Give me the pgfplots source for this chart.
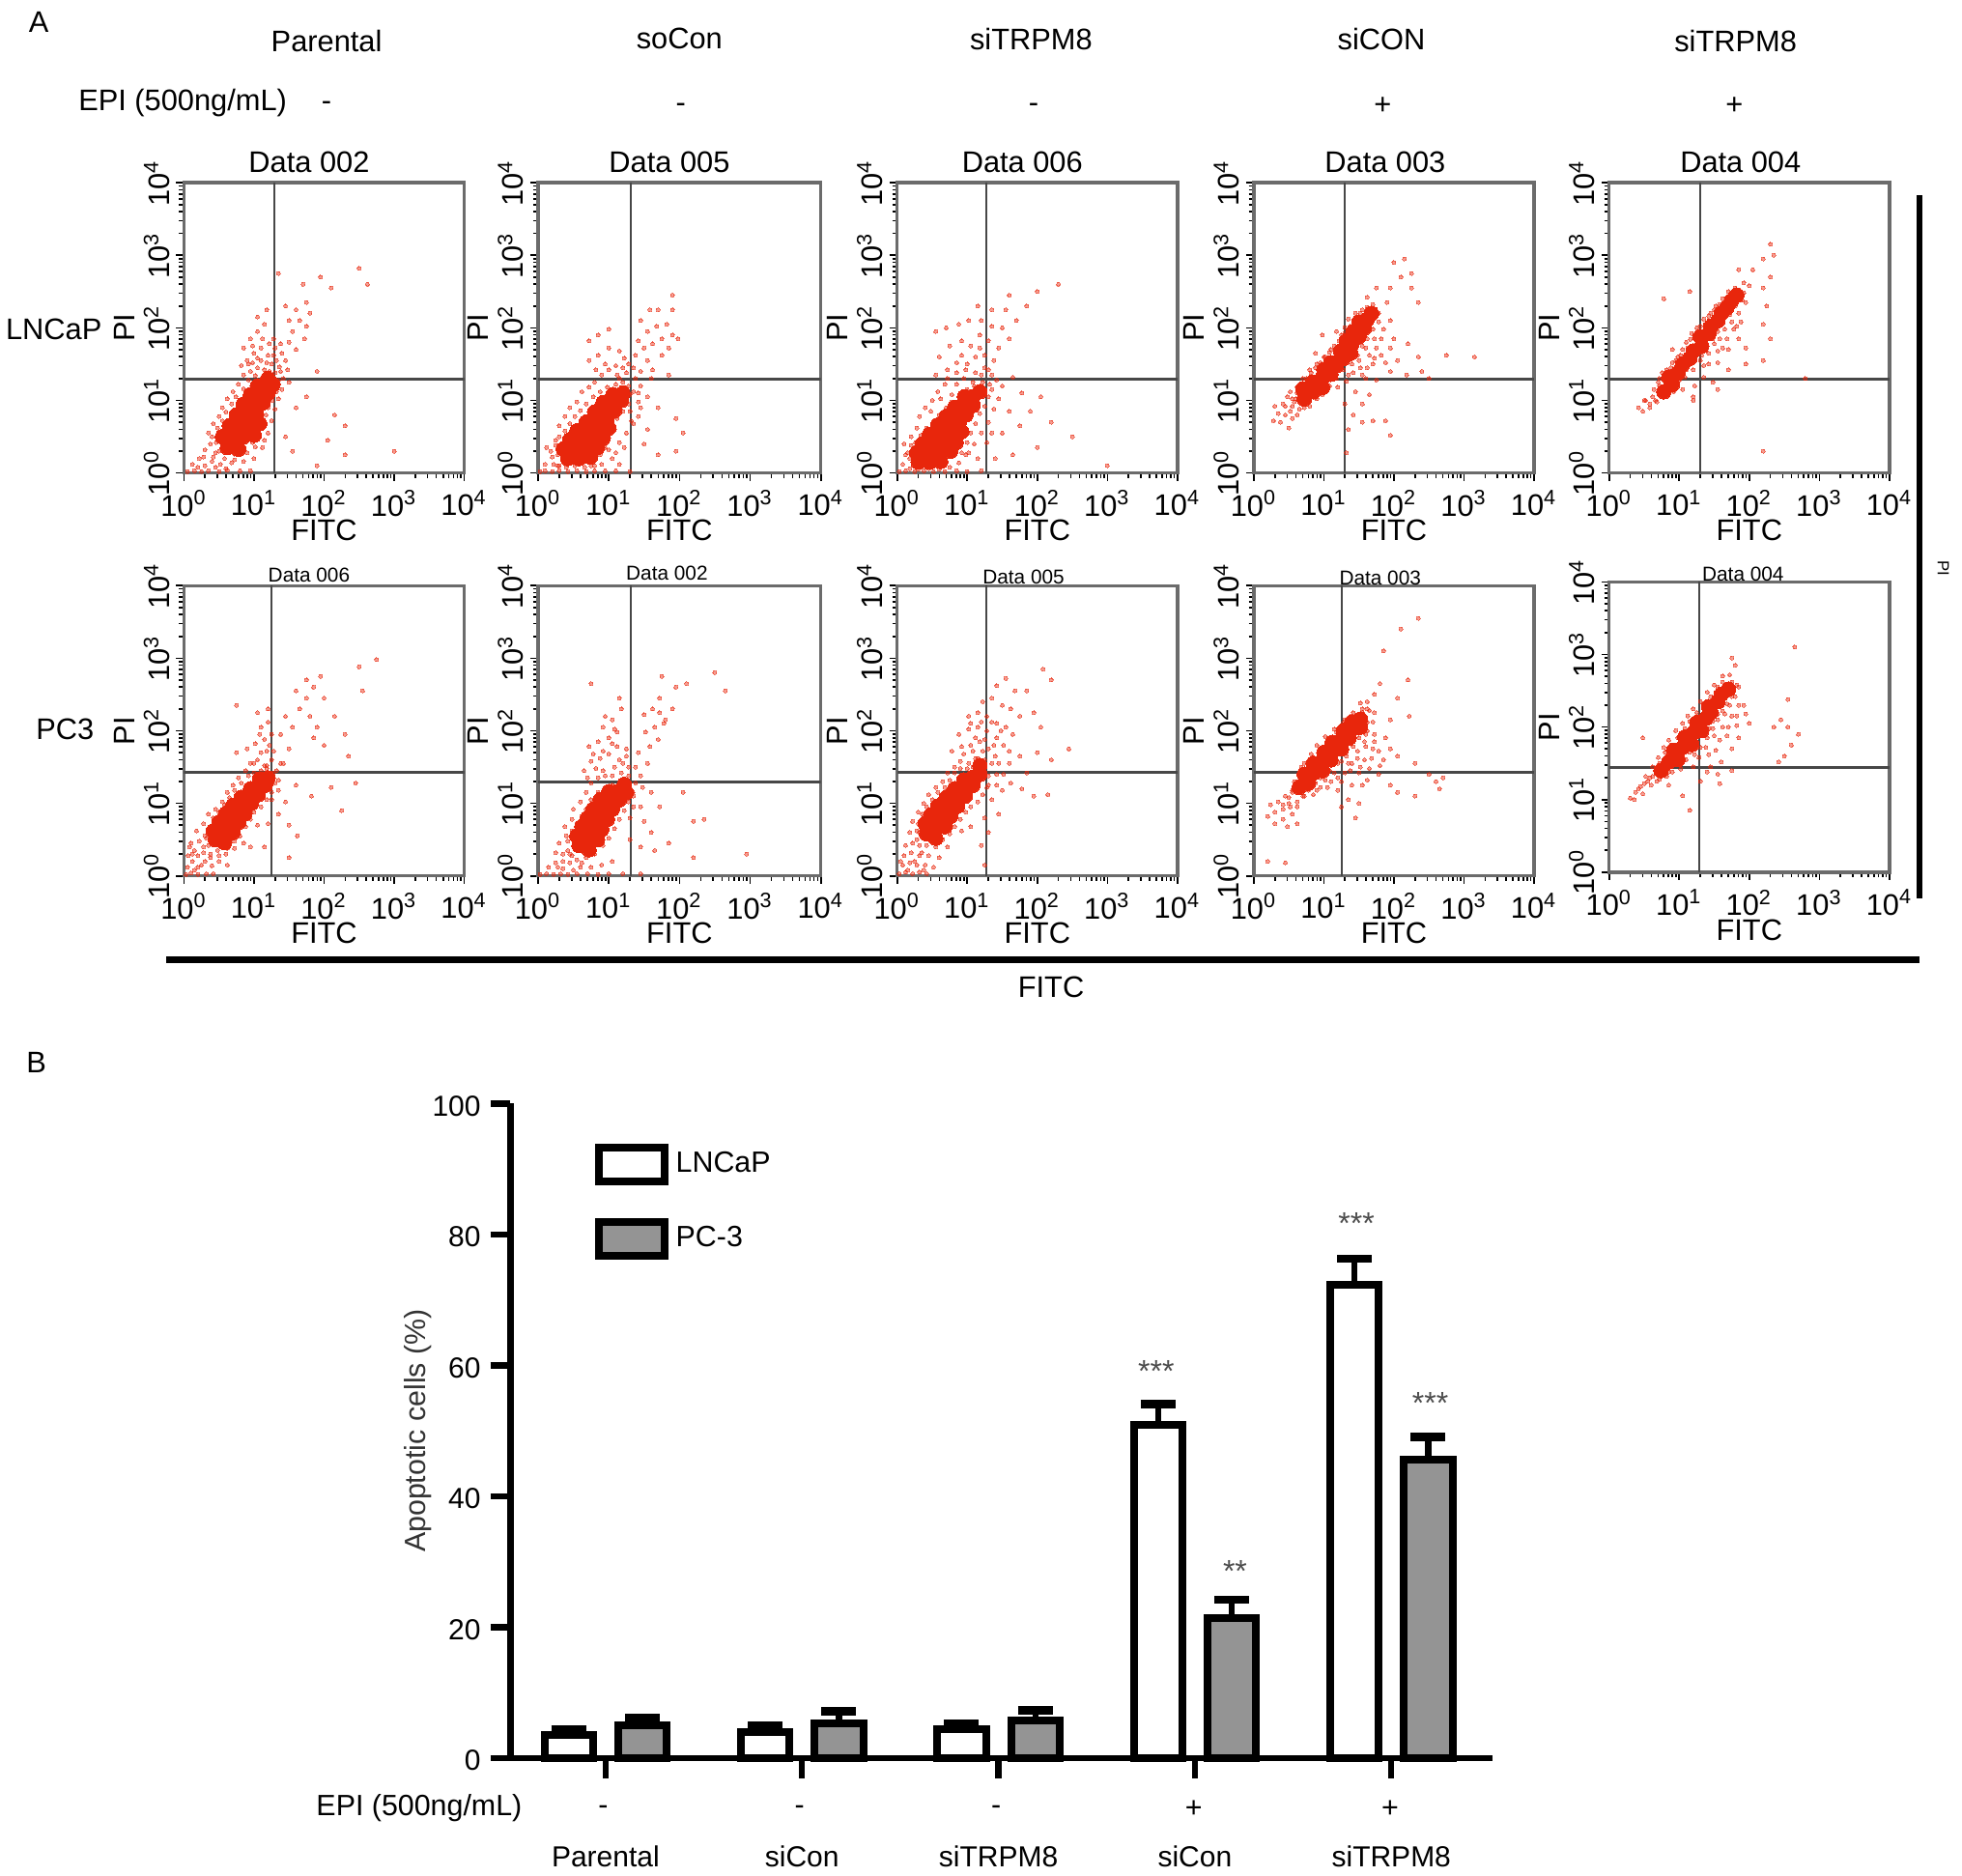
\documentclass[border=0pt]{standalone}
\usepackage{fontspec}
\setmainfont{Liberation Sans}
\usepackage{pgfplots}
\pgfplotsset{compat=1.18}

\definecolor{dotred}{HTML}{E8260C}
\definecolor{framegray}{gray}{0.42}
\definecolor{gategray}{gray}{0.28}
\definecolor{barline}{gray}{0}
\definecolor{barfill}{gray}{0.58}

% scatter values are log10 of the intensity, so the axes run 0..4 decades
\def\minorlog{0.301,0.477,0.602,0.699,0.778,0.845,0.903,0.954,1.301,1.477,1.602,1.699,1.778,1.845,1.903,1.954,2.301,2.477,2.602,2.699,2.778,2.845,2.903,2.954,3.301,3.477,3.602,3.699,3.778,3.845,3.903,3.954}

\pgfplotsset{
  flow/.style={
    scale only axis, height=75.13pt, anchor=south west,
    xmin=0, xmax=4, ymin=0, ymax=4,
    xtick={0,1,2,3,4}, ytick={0,1,2,3,4},
    minor xtick=\minorlog, minor ytick=\minorlog,
    xticklabels={10\textsuperscript{0},10\textsuperscript{1},10\textsuperscript{2},10\textsuperscript{3},10\textsuperscript{4}},
    yticklabels={10\textsuperscript{0},10\textsuperscript{1},10\textsuperscript{2},10\textsuperscript{3},10\textsuperscript{4}},
    tick align=outside, tick pos=left,
    major tick length=2pt, minor tick length=1.3pt,
    tick style={black, line width=0.4pt},
    axis line style={framegray, line width=0.85pt},
    ticklabel style={font=\fontsize{7.7}{8}\selectfont},
    xticklabel style={yshift=1pt},
    yticklabel style={rotate=90, anchor=south, yshift=-1.8pt},
    xlabel={FITC}, ylabel={PI},
    every axis x label/.style={at={(axis description cs:0.5,0)}, anchor=center, yshift=-14.9pt, font=\fontsize{7.7}{8}\selectfont},
    every axis y label/.style={at={(axis description cs:0,0.5)}, anchor=center, rotate=90, yshift=15.4pt, font=\fontsize{7.7}{8}\selectfont},
    clip=true,
  },
  sparse/.style={only marks, mark=*, mark size=0.5pt, mark options={draw=dotred, fill=dotred, line width=0pt, opacity=0.45}},
  core/.style={only marks, mark=*, mark size=1.9pt, mark options={draw=dotred, fill=dotred, line width=0pt}},
  gatev/.style={gategray, line width=0.5pt, no marks},
  gateh/.style={gategray, line width=0.75pt, no marks},
}

% x, y of the lower left corner, width, gates, then dense core, scattered cells, cells round the core
\newcommand{\panel}[8]{
\begin{axis}[flow, at={(#1*0.32385pt,-#2*0.32385pt)}, width=#3]
\addplot[sparse] coordinates {#7};
\addplot[sparse] coordinates {#8};
\addplot[core] coordinates {#6};
\addplot[gatev] coordinates {(#4,0)(#4,4)};
\addplot[gateh] coordinates {(0,#5)(4,#5)};
\end{axis}}

\newcommand{\lab}[3]{\node[font=\fontsize{7.7}{8}\selectfont] at (#1,#2) {#3};}
\newcommand{\smalllab}[3]{\node[font=\fontsize{5.2}{6}\selectfont] at (#1,#2) {#3};}

\begin{document}
\begin{tikzpicture}[x=0.32385pt, y=-0.32385pt]
\useasboundingbox (0,0) rectangle (1568,1499);

% row 1, LNCaP
\panel{147}{378}{72.54pt}{1.29}{1.29}
{(0.62,0.35)(0.78,0.33)(0.55,0.5)(0.7,0.5)(0.85,0.5)(1.0,0.52)(0.65,0.65)(0.8,0.65)(0.95,0.65)(1.08,0.68)(0.75,0.8)(0.9,0.8)(1.03,0.82)(0.85,0.95)(1.0,0.95)(1.13,0.97)(0.95,1.08)(1.08,1.08)(1.2,1.1)(1.05,1.2)(1.17,1.2)(1.27,1.22)(1.2,1.3)}
{(0.05,0.02)(0.15,0.03)(0.25,0.02)(0.35,0.03)(0.5,0.02)(0.62,0.04)(0.8,0.03)(0.95,0.03)(0.12,0.12)(0.22,0.2)(0.3,0.1)(0.4,0.16)(0.52,0.12)(0.68,0.14)(0.85,0.16)(1.0,0.2)(0.3,0.32)(0.38,0.4)(0.45,0.28)(0.35,0.55)(0.42,0.68)(0.5,0.78)(0.55,0.9)(0.62,1.02)(0.7,1.12)(0.78,1.22)(1.12,0.35)(1.2,0.55)(1.25,0.72)(1.3,0.88)(1.35,1.02)(1.4,1.15)(1.42,1.3)(1.38,1.4)(0.85,1.35)(0.95,1.4)(1.05,1.45)(1.15,1.42)(1.25,1.5)(1.32,1.55)(0.9,1.55)(1.0,1.65)(1.1,1.72)(1.2,1.62)(1.3,1.72)(1.28,1.85)(0.85,1.72)(0.95,1.85)(1.05,1.95)(1.15,2.05)(1.05,2.15)(1.18,2.25)(1.4,1.65)(1.5,1.8)(1.55,1.95)(1.6,1.7)(1.72,1.85)(1.65,2.1)(1.5,2.1)(1.75,2.02)(1.8,2.2)(1.6,2.25)(1.75,2.35)(1.45,2.3)(1.35,2.75)(1.95,2.7)(2.5,2.82)(2.62,2.6)(2.1,2.55)(1.7,2.6)(1.5,1.25)(1.6,0.9)(1.75,1.05)(1.9,1.4)(2.15,0.8)(2.3,0.65)(2.05,0.45)(2.3,0.25)(3.0,0.3)(1.9,0.1)(1.45,0.5)(1.55,0.3)}
{(0.42,0.22)(0.5,0.3)(0.58,0.2)(0.72,0.18)(0.9,0.28)(1.02,0.36)(0.46,0.42)(0.4,0.5)(0.48,0.62)(0.55,0.72)(0.6,0.84)(0.68,0.95)(0.74,1.05)(0.85,1.16)(0.92,1.28)(1.02,1.34)(1.12,1.32)(1.17,0.8)(1.2,0.9)(1.26,1.0)(1.32,1.12)(1.35,1.28)(1.3,1.38)(1.22,1.4)(1.1,1.55)(1.18,1.52)(1.28,1.62)(0.98,1.52)(1.05,1.58)(0.82,1.48)(1.36,1.46)(1.12,0.62)(1.15,0.45)(1.08,0.5)(0.98,0.42)(0.6,0.06)(0.45,0.08)(0.72,0.26)(0.28,0.22)(0.2,0.08)(0.92,1.5)(1.22,1.78)(1.12,1.85)(0.98,1.75)(1.38,1.78)(1.45,1.55)(1.48,1.42)}

\panel{430}{378}{73.19pt}{1.31}{1.29}
{(0.42,0.2)(0.58,0.2)(0.74,0.22)(0.36,0.33)(0.52,0.33)(0.68,0.33)(0.84,0.35)(0.45,0.46)(0.6,0.46)(0.76,0.46)(0.92,0.48)(0.55,0.58)(0.7,0.58)(0.85,0.6)(1.0,0.62)(0.68,0.7)(0.82,0.72)(0.97,0.74)(0.8,0.84)(0.94,0.85)(1.08,0.86)(0.92,0.97)(1.05,0.98)(1.18,1.0)(1.06,1.08)(1.2,1.1)}
{(0.03,0.02)(0.1,0.03)(0.2,0.02)(0.3,0.03)(0.42,0.02)(0.55,0.03)(0.68,0.02)(0.8,0.03)(0.95,0.03)(1.1,0.03)(1.3,0.02)(0.1,0.12)(0.2,0.22)(0.12,0.35)(0.25,0.45)(0.28,0.1)(0.9,0.12)(1.05,0.2)(1.15,0.12)(1.0,0.32)(1.15,0.42)(1.25,0.55)(1.35,0.68)(1.42,0.78)(1.3,0.85)(1.42,0.98)(1.35,1.12)(1.45,1.2)(0.3,0.65)(0.38,0.78)(0.45,0.9)(0.55,0.98)(0.62,1.12)(0.72,1.18)(0.8,1.25)(0.9,1.35)(1.0,1.42)(1.12,1.35)(1.2,1.45)(1.28,1.5)(0.72,1.55)(0.85,1.62)(1.0,1.72)(1.15,1.68)(0.72,1.82)(0.85,1.9)(1.0,1.98)(1.45,1.4)(1.55,1.55)(1.62,1.42)(1.5,1.72)(1.62,1.78)(1.75,1.62)(1.85,1.72)(1.75,1.85)(1.9,1.9)(1.68,2.02)(1.55,1.95)(1.42,1.82)(1.82,2.05)(1.98,1.85)(1.45,2.1)(1.58,2.25)(1.7,2.25)(1.9,2.25)(1.9,2.45)(1.6,1.3)(1.85,1.35)(1.55,0.6)(1.7,0.9)(1.55,1.05)(1.95,0.75)(2.05,0.55)(1.95,0.3)(1.7,0.25)(1.5,0.4)}
{(0.3,0.1)(0.4,0.08)(0.52,0.1)(0.66,0.08)(0.8,0.1)(0.22,0.12)(0.18,0.3)(0.28,0.25)(0.25,0.38)(0.3,0.5)(0.38,0.58)(0.45,0.68)(0.52,0.78)(0.6,0.86)(0.68,0.95)(0.78,1.05)(0.88,1.12)(0.98,1.18)(1.1,1.22)(1.2,1.25)(1.28,1.2)(1.3,1.08)(1.28,0.95)(1.2,0.85)(1.12,0.75)(1.08,0.6)(1.0,0.48)(0.95,0.35)(0.88,0.25)(0.75,0.1)(1.38,1.3)(1.42,1.1)(1.25,1.38)(1.15,1.3)(1.35,1.45)(1.1,1.48)(0.95,1.5)(0.82,1.42)(1.22,1.58)(1.38,1.62)(1.32,0.72)(1.45,0.9)(1.1,0.28)(1.22,0.35)(0.58,0.12)}

\panel{717}{378}{72.54pt}{1.27}{1.29}
{(0.3,0.15)(0.46,0.15)(0.62,0.16)(0.28,0.28)(0.44,0.28)(0.6,0.28)(0.76,0.3)(0.36,0.4)(0.52,0.4)(0.68,0.42)(0.84,0.42)(0.46,0.53)(0.62,0.53)(0.78,0.55)(0.92,0.57)(0.58,0.66)(0.72,0.66)(0.88,0.68)(0.7,0.78)(0.84,0.8)(0.98,0.8)(0.82,0.9)(0.96,0.93)(1.08,0.93)(0.96,1.05)(1.08,1.05)(1.18,1.12)}
{(0.03,0.02)(0.12,0.03)(0.25,0.02)(0.38,0.03)(0.52,0.02)(0.68,0.02)(0.85,0.03)(1.0,0.02)(1.2,0.03)(0.08,0.12)(0.15,0.28)(0.1,0.4)(0.2,0.5)(0.28,0.62)(0.32,0.78)(0.4,0.9)(0.5,1.0)(0.58,1.12)(0.68,1.22)(0.78,1.08)(0.85,1.22)(0.95,1.3)(1.08,1.25)(1.2,1.35)(1.3,1.42)(0.72,1.42)(0.85,1.52)(1.0,1.5)(1.12,1.6)(1.25,1.62)(1.38,1.55)(0.6,1.6)(0.75,1.75)(0.92,1.82)(1.05,1.75)(1.18,1.9)(1.3,1.82)(1.45,1.72)(0.55,1.95)(0.7,2.0)(0.88,2.05)(1.02,2.1)(1.2,2.1)(1.35,2.02)(1.5,2.0)(1.6,1.85)(1.7,2.1)(1.55,2.25)(1.35,2.25)(1.15,2.3)(1.85,2.3)(2.0,2.5)(2.3,2.6)(1.6,2.45)(0.98,0.25)(1.1,0.4)(1.2,0.55)(1.3,0.7)(1.38,0.88)(1.45,1.02)(1.35,1.15)(1.5,1.2)(1.65,1.32)(1.78,1.1)(1.6,0.85)(1.75,0.65)(1.5,0.55)(1.9,0.85)(2.05,1.05)(2.2,0.7)(2.0,0.35)(2.5,0.5)(3.0,0.1)(1.65,0.25)(1.4,0.2)}
{(0.18,0.06)(0.3,0.05)(0.45,0.06)(0.6,0.05)(0.75,0.08)(0.88,0.14)(0.92,0.28)(1.0,0.42)(1.05,0.55)(1.12,0.68)(1.18,0.82)(1.25,0.92)(1.3,1.05)(1.32,1.22)(1.22,1.25)(1.1,1.2)(1.0,1.15)(0.9,1.08)(0.78,0.98)(0.7,0.9)(0.6,0.8)(0.52,0.72)(0.42,0.62)(0.34,0.52)(0.26,0.42)(0.18,0.2)(0.12,0.25)(0.2,0.38)(0.72,1.3)(0.85,1.38)(0.98,1.42)(1.12,1.38)(1.25,1.45)(1.35,1.35)(1.42,1.28)(1.15,1.12)(1.02,0.28)(1.15,0.2)(1.28,0.42)(1.35,0.55)(0.62,1.02)(0.48,0.85)(0.55,1.35)(0.92,1.62)(1.18,1.72)}

\panel{1002}{378}{72.54pt}{1.30}{1.29}
{(0.72,1.02)(0.85,1.12)(0.7,1.16)(0.84,1.25)(0.97,1.3)(0.98,1.18)(1.1,1.36)(1.0,1.42)(1.18,1.48)(1.1,1.52)(1.28,1.58)(1.38,1.65)(1.24,1.68)(1.4,1.78)(1.32,1.82)(1.5,1.88)(1.42,1.95)(1.58,2.0)(1.5,2.08)(1.62,2.12)(1.68,2.2)}
{(0.28,0.72)(0.35,0.82)(0.3,0.92)(0.42,0.95)(0.38,0.7)(0.45,0.8)(0.5,0.62)(0.55,0.75)(0.48,1.05)(0.55,0.92)(0.62,0.8)(0.6,1.02)(0.52,1.12)(0.62,1.18)(0.72,0.9)(0.8,0.92)(0.9,1.02)(0.7,1.3)(0.8,1.42)(0.9,1.5)(0.88,1.65)(1.0,1.6)(0.98,1.9)(1.1,1.7)(1.18,1.95)(1.25,1.9)(1.3,2.0)(1.35,2.12)(1.45,2.2)(1.55,2.25)(1.7,2.32)(1.78,2.2)(1.62,2.42)(2.0,2.9)(2.15,2.95)(2.25,2.75)(2.1,2.7)(1.95,2.55)(2.25,2.55)(2.35,2.35)(1.75,2.55)(1.9,2.35)(1.35,1.35)(1.5,1.55)(1.6,1.72)(1.72,1.85)(1.85,1.98)(1.95,2.1)(1.55,1.35)(1.7,1.5)(1.82,1.62)(1.95,1.72)(2.05,1.55)(2.2,1.78)(2.35,1.6)(2.0,1.85)(1.75,1.28)(1.95,1.4)(2.18,1.35)(2.4,1.4)(2.75,1.62)(3.15,1.6)(1.45,1.12)(1.3,0.95)(1.42,0.8)(1.35,0.6)(1.55,0.95)(1.65,1.08)(1.7,0.72)(1.88,0.72)(1.95,0.52)(1.32,0.28)(1.55,0.7)(2.5,1.3)}
{(0.45,0.92)(0.52,0.85)(0.58,0.98)(0.65,0.88)(0.7,0.95)(0.62,1.1)(0.68,1.22)(0.55,1.02)(0.75,1.3)(0.82,1.38)(0.88,1.45)(0.95,1.52)(1.02,1.6)(1.08,1.66)(1.15,1.75)(1.22,1.82)(1.3,1.92)(1.38,2.02)(1.45,2.12)(1.52,2.2)(1.62,2.28)(0.98,1.08)(1.08,1.2)(1.18,1.3)(1.28,1.42)(1.4,1.5)(1.48,1.62)(1.55,1.75)(1.62,1.85)(1.7,1.98)(1.78,2.08)(1.72,2.22)(1.82,1.85)(1.65,1.62)(1.52,1.45)(1.42,1.38)(1.62,1.45)(1.75,1.72)(1.88,1.52)(1.72,1.58)(1.6,1.3)(0.78,1.02)(0.88,1.04)(1.2,1.18)(1.32,1.26)}

\panel{1286}{378}{72.54pt}{1.30}{1.29}
{(0.78,1.12)(0.9,1.22)(0.85,1.32)(0.98,1.38)(1.05,1.5)(1.15,1.58)(1.2,1.68)(1.32,1.75)(1.3,1.88)(1.42,1.92)(1.45,2.02)(1.55,2.1)(1.6,2.2)(1.68,2.28)(1.75,2.38)(1.82,2.45)}
{(0.42,0.9)(0.5,1.0)(0.58,0.95)(0.48,0.85)(0.62,1.05)(0.68,0.98)(0.72,1.2)(0.72,1.3)(0.82,1.42)(0.9,1.52)(0.98,1.6)(1.05,1.7)(1.1,1.8)(1.18,1.92)(1.25,2.0)(1.35,2.12)(1.45,2.2)(1.52,2.3)(1.62,2.4)(1.7,2.5)(1.8,2.55)(1.92,2.62)(2.0,2.58)(0.95,1.18)(1.08,1.32)(1.2,1.42)(1.3,1.55)(1.42,1.65)(1.5,1.78)(1.58,1.85)(1.65,1.98)(1.75,2.08)(1.85,2.2)(1.95,2.35)(1.05,1.15)(1.22,1.2)(1.35,1.32)(1.55,1.52)(1.7,1.7)(1.85,1.85)(1.7,1.42)(1.95,1.72)(2.2,2.05)(2.25,2.3)(2.2,2.55)(2.3,2.7)(2.2,2.95)(2.3,3.15)(2.35,3.0)(2.05,2.8)(1.85,2.8)(0.78,2.4)(0.9,1.7)(1.2,1.05)(1.48,1.25)(1.95,1.5)(2.3,1.85)(2.2,1.55)(1.15,2.5)(1.2,1.0)(1.55,1.15)(2.8,1.3)(2.2,0.3)}
{(0.52,1.0)(0.58,0.9)(0.66,1.0)(0.72,1.08)(0.64,1.15)(0.7,1.25)(0.82,1.25)(0.76,1.38)(0.88,1.45)(0.95,1.55)(1.02,1.62)(1.12,1.72)(1.16,1.84)(1.22,1.9)(1.3,2.02)(1.38,2.05)(1.42,2.16)(1.5,2.25)(1.58,2.32)(1.68,2.42)(1.75,2.48)(1.85,2.52)(0.92,1.12)(1.0,1.28)(1.1,1.42)(1.2,1.52)(1.32,1.62)(1.38,1.72)(1.48,1.85)(1.55,1.95)(1.62,2.08)(1.72,2.18)(1.8,2.3)(1.9,2.38)(1.92,2.48)(1.42,1.5)(1.55,1.68)(1.68,1.85)(1.78,1.98)(1.88,2.08)(1.35,1.48)(1.62,1.72)(1.82,2.02)}

% row 2, PC3
\panel{147}{700}{72.54pt}{1.25}{1.43}
{(0.45,0.5)(0.58,0.46)(0.42,0.62)(0.56,0.6)(0.7,0.6)(0.5,0.74)(0.64,0.72)(0.78,0.74)(0.6,0.86)(0.73,0.85)(0.87,0.86)(0.7,0.97)(0.84,0.97)(0.96,1.0)(0.82,1.08)(0.95,1.1)(1.06,1.12)(0.95,1.2)(1.05,1.22)(1.16,1.25)(1.08,1.33)(1.2,1.35)}
{(0.03,0.02)(0.1,0.04)(0.2,0.02)(0.32,0.03)(0.42,0.03)(0.05,0.12)(0.12,0.2)(0.2,0.12)(0.3,0.2)(0.4,0.14)(0.06,0.28)(0.15,0.35)(0.28,0.32)(0.2,0.28)(0.38,0.3)(0.5,0.28)(0.1,0.45)(0.22,0.48)(0.3,0.55)(0.18,0.62)(0.28,0.72)(0.35,0.85)(0.45,0.92)(0.55,1.02)(0.62,1.15)(0.7,1.25)(0.78,1.35)(0.88,1.45)(0.95,1.55)(1.05,1.6)(1.15,1.52)(1.25,1.6)(0.9,1.75)(1.02,1.82)(1.15,1.88)(1.25,1.95)(0.75,1.7)(1.1,2.05)(1.2,2.12)(1.05,2.25)(1.2,2.3)(0.75,2.35)(1.32,1.45)(1.42,1.55)(1.5,1.75)(1.38,1.95)(1.55,2.05)(1.45,2.2)(1.65,2.3)(1.75,2.45)(1.6,2.55)(1.85,2.6)(1.95,2.75)(1.75,2.7)(2.0,2.45)(2.15,2.2)(2.3,1.95)(2.35,1.65)(1.8,2.2)(1.9,2.05)(2.0,1.8)(1.85,1.9)(2.5,2.88)(2.75,2.98)(2.55,2.55)(1.25,1.05)(1.35,1.18)(1.45,1.02)(1.6,1.25)(1.82,1.1)(2.1,1.22)(2.25,0.9)(2.45,1.28)(1.2,0.72)(1.35,0.85)(1.5,0.7)(1.62,0.55)(1.05,0.7)(1.15,0.4)(1.5,0.25)(0.95,0.4)(0.85,0.45)(0.72,0.38)}
{(0.28,0.4)(0.35,0.42)(0.32,0.52)(0.38,0.68)(0.42,0.8)(0.5,0.88)(0.58,0.98)(0.65,1.08)(0.72,1.18)(0.82,1.28)(0.92,1.38)(1.0,1.42)(1.1,1.45)(1.18,1.48)(1.28,1.42)(1.3,1.28)(1.25,1.15)(1.18,1.05)(1.1,0.95)(1.0,0.88)(0.95,0.78)(0.88,0.68)(0.8,0.55)(0.72,0.48)(0.62,0.38)(0.48,0.35)(0.38,0.25)(0.25,0.15)(0.15,0.08)(0.5,0.2)(0.6,0.3)(0.12,0.3)(0.08,0.4)(1.0,1.55)(1.1,1.7)(1.18,1.72)(1.22,1.8)(1.28,1.72)(1.08,1.95)(1.18,1.52)(1.35,1.32)(1.38,1.55)(0.62,0.15)}

\panel{430}{700}{73.19pt}{1.31}{1.29}
{(0.58,0.42)(0.72,0.36)(0.55,0.55)(0.7,0.52)(0.84,0.5)(0.62,0.68)(0.76,0.66)(0.9,0.64)(0.7,0.8)(0.84,0.8)(0.98,0.78)(0.78,0.92)(0.92,0.92)(1.05,0.92)(0.88,1.05)(1.02,1.04)(1.15,1.05)(1.0,1.16)(1.12,1.16)(1.25,1.15)(1.22,1.26)}
{(0.03,0.02)(0.12,0.03)(0.22,0.02)(0.32,0.03)(0.42,0.02)(0.55,0.03)(0.7,0.03)(0.85,0.02)(1.0,0.03)(1.2,0.03)(1.45,0.03)(0.15,0.12)(0.25,0.18)(0.35,0.1)(0.45,0.18)(0.6,0.12)(0.75,0.12)(0.9,0.15)(1.05,0.2)(0.25,0.32)(0.35,0.3)(0.45,0.3)(0.3,0.45)(0.4,0.55)(0.38,0.68)(0.48,0.78)(0.5,0.92)(0.6,1.02)(0.68,1.15)(0.75,1.28)(0.85,1.35)(0.92,1.45)(1.05,1.38)(1.18,1.42)(1.28,1.5)(0.65,1.45)(0.75,1.58)(0.88,1.62)(1.0,1.68)(1.15,1.6)(1.25,1.75)(0.72,1.78)(0.85,1.85)(1.0,1.9)(1.12,1.98)(1.05,2.15)(1.18,2.3)(0.95,2.2)(1.15,2.45)(0.75,2.65)(1.45,1.38)(1.55,1.55)(1.42,1.7)(1.58,1.78)(1.7,1.88)(1.52,1.98)(1.65,2.05)(1.78,2.1)(1.5,2.22)(1.62,2.3)(1.72,2.25)(1.8,2.15)(1.9,2.3)(1.72,2.45)(1.95,2.6)(1.75,2.75)(2.1,2.65)(2.5,2.8)(2.65,2.55)(1.35,1.1)(1.45,0.95)(1.6,1.15)(1.3,0.8)(1.5,0.75)(1.6,0.6)(1.3,0.5)(1.45,0.4)(1.72,0.95)(2.05,1.15)(2.35,0.78)(2.2,0.75)(2.95,0.3)(2.2,0.25)(1.65,0.35)(1.85,0.45)}
{(0.42,0.35)(0.48,0.28)(0.55,0.22)(0.68,0.25)(0.8,0.3)(0.92,0.42)(1.0,0.52)(1.08,0.65)(1.15,0.78)(1.22,0.9)(1.28,1.02)(1.34,1.15)(1.38,1.28)(1.28,1.38)(1.15,1.28)(1.05,1.25)(0.95,1.22)(0.85,1.15)(0.75,1.05)(0.68,0.92)(0.62,0.82)(0.55,0.72)(0.48,0.62)(0.42,0.48)(0.35,0.2)(0.28,0.12)(0.5,0.08)(0.62,0.18)(0.95,1.38)(1.08,1.5)(1.2,1.55)(0.82,1.48)(0.7,1.35)(0.78,1.68)(0.92,1.72)(1.12,1.78)(1.25,1.65)(1.05,1.82)(1.38,1.5)(1.35,0.95)(1.22,1.15)(1.48,1.22)(0.92,2.05)(1.08,2.02)}

\panel{717}{700}{72.54pt}{1.27}{1.43}
{(0.42,0.58)(0.55,0.52)(0.4,0.72)(0.54,0.68)(0.68,0.68)(0.48,0.84)(0.62,0.82)(0.76,0.82)(0.58,0.96)(0.72,0.96)(0.86,0.96)(0.7,1.08)(0.84,1.08)(0.97,1.1)(0.82,1.2)(0.96,1.2)(1.08,1.25)(0.95,1.32)(1.08,1.36)(1.18,1.4)(1.18,1.52)}
{(0.03,0.03)(0.12,0.05)(0.22,0.03)(0.32,0.05)(0.42,0.03)(0.08,0.15)(0.18,0.18)(0.28,0.15)(0.4,0.15)(0.52,0.12)(0.1,0.28)(0.2,0.32)(0.32,0.28)(0.45,0.28)(0.6,0.25)(0.12,0.42)(0.22,0.45)(0.32,0.42)(0.72,0.4)(0.18,0.6)(0.28,0.62)(0.22,0.75)(0.3,0.88)(0.38,1.0)(0.45,1.12)(0.55,1.22)(0.65,1.3)(0.72,1.42)(0.82,1.5)(0.9,1.58)(1.02,1.55)(1.12,1.62)(1.25,1.6)(0.78,1.72)(0.92,1.78)(1.05,1.8)(1.18,1.85)(1.3,1.75)(1.4,1.65)(0.88,1.95)(1.02,2.02)(1.15,2.05)(1.28,2.0)(1.42,1.9)(1.52,1.8)(1.02,2.2)(1.15,2.25)(1.28,2.2)(1.42,2.1)(1.55,2.05)(1.65,1.95)(1.22,2.4)(1.35,2.45)(1.5,2.35)(1.62,2.3)(1.75,2.2)(1.42,2.62)(1.55,2.72)(1.68,2.55)(1.85,2.55)(1.95,2.25)(2.05,2.05)(2.08,2.85)(2.2,2.7)(1.3,1.25)(1.42,1.4)(1.6,1.55)(1.75,1.65)(1.85,1.42)(2.0,1.7)(2.2,1.6)(2.45,1.75)(1.35,1.05)(1.5,1.18)(1.62,1.28)(1.78,1.2)(1.95,1.1)(2.15,1.12)(1.25,0.8)(1.45,0.85)(1.3,0.6)(1.2,0.42)(1.05,0.68)(0.92,0.62)(1.25,0.15)}
{(0.28,0.5)(0.32,0.6)(0.3,0.72)(0.36,0.85)(0.42,0.95)(0.5,1.05)(0.58,1.15)(0.68,1.22)(0.75,1.32)(0.82,1.42)(0.9,1.48)(1.0,1.48)(1.08,1.5)(1.15,1.62)(1.25,1.5)(1.3,1.38)(1.28,1.22)(1.22,1.12)(1.15,1.02)(1.05,0.95)(0.98,0.88)(0.9,0.78)(0.82,0.68)(0.75,0.58)(0.65,0.5)(0.55,0.4)(0.42,0.42)(0.35,0.32)(0.25,0.2)(0.15,0.08)(0.05,0.2)(0.38,0.08)(0.95,1.68)(1.08,1.72)(1.22,1.72)(1.35,1.55)(1.12,1.9)(1.25,1.88)(1.38,1.8)(1.05,2.1)(1.2,2.12)(1.35,2.12)(1.45,1.55)(1.52,1.4)(1.42,1.25)(1.48,2.0)(1.6,1.72)}

\panel{1002}{700}{72.54pt}{1.25}{1.43}
{(0.65,1.22)(0.78,1.28)(0.72,1.4)(0.85,1.42)(0.98,1.45)(0.85,1.55)(0.98,1.58)(1.1,1.6)(1.0,1.7)(1.12,1.72)(1.25,1.75)(1.12,1.84)(1.25,1.88)(1.36,1.9)(1.28,2.0)(1.4,2.02)(1.52,2.05)(1.4,2.12)(1.52,2.16)}
{(0.2,0.82)(0.3,0.88)(0.24,0.98)(0.35,1.02)(0.3,0.72)(0.42,0.78)(0.42,0.92)(0.5,1.0)(0.55,0.85)(0.45,1.1)(0.55,1.15)(0.62,1.02)(0.7,1.1)(0.48,0.68)(0.62,0.72)(0.58,1.3)(0.65,1.42)(0.72,1.55)(0.82,1.68)(0.9,1.8)(1.02,1.92)(1.15,2.02)(1.3,2.15)(1.42,2.25)(1.55,2.3)(1.65,2.28)(1.7,2.12)(1.62,2.0)(1.72,1.95)(1.58,1.85)(1.7,1.75)(1.48,1.72)(1.58,1.6)(1.4,1.55)(1.5,1.42)(1.65,1.48)(1.3,1.42)(1.2,1.35)(1.4,1.25)(1.55,1.25)(1.2,1.18)(1.05,1.22)(0.95,1.22)(0.85,1.12)(1.35,1.05)(1.25,0.95)(1.5,1.0)(1.78,1.4)(1.85,1.6)(1.95,1.75)(2.05,1.65)(1.88,1.9)(1.95,2.15)(2.05,2.45)(1.72,2.5)(1.62,2.4)(2.2,2.7)(2.22,2.2)(1.95,1.25)(2.05,1.15)(2.3,1.55)(2.5,1.4)(2.6,1.3)(2.65,1.2)(2.7,1.35)(1.8,2.65)(2.3,1.1)(1.85,3.1)(2.1,3.4)(2.35,3.55)(0.2,0.2)(0.45,0.18)(1.45,0.8)}
{(0.42,0.98)(0.5,1.08)(0.55,1.18)(0.52,0.95)(0.62,0.95)(0.72,1.1)(0.78,1.18)(0.88,1.28)(0.95,1.35)(1.08,1.45)(1.2,1.55)(1.32,1.65)(1.42,1.78)(1.5,1.9)(1.6,1.95)(1.62,2.12)(1.55,2.25)(1.38,2.2)(1.28,2.12)(1.18,1.98)(1.05,1.85)(0.95,1.72)(0.88,1.62)(0.78,1.52)(0.62,1.3)(0.68,1.5)(1.35,1.55)(1.48,1.62)(1.6,1.78)(1.72,1.85)(1.25,1.58)(1.38,1.45)(1.52,1.5)(1.68,1.62)(1.78,1.72)(1.8,1.52)(1.15,1.42)(1.1,1.3)(1.25,1.3)(1.02,1.32)(0.9,1.18)(1.62,1.32)(1.72,2.25)(1.52,2.38)(1.62,2.3)}

\panel{1286}{697}{72.54pt}{1.29}{1.44}
{(0.74,1.4)(0.85,1.52)(0.98,1.55)(0.92,1.68)(1.05,1.72)(1.18,1.76)(1.08,1.86)(1.2,1.92)(1.32,1.95)(1.25,2.06)(1.38,2.12)(1.45,2.2)(1.42,2.28)(1.55,2.35)(1.6,2.45)(1.7,2.52)}
{(0.3,1.02)(0.38,1.1)(0.45,1.18)(0.36,1.0)(0.48,1.08)(0.55,1.25)(0.62,1.32)(0.68,1.25)(0.52,1.32)(0.72,1.5)(0.8,1.65)(0.88,1.75)(0.98,1.85)(1.08,1.98)(1.15,2.08)(1.25,2.2)(1.35,2.3)(1.45,2.42)(1.55,2.55)(1.62,2.62)(1.75,2.62)(1.8,2.42)(1.72,2.3)(1.65,2.18)(1.55,2.1)(1.48,1.98)(1.4,1.85)(1.3,1.72)(1.22,1.62)(1.1,1.55)(1.02,1.42)(0.9,1.38)(0.82,1.32)(1.42,1.62)(1.58,1.82)(1.7,2.0)(1.82,2.15)(1.92,2.3)(1.85,1.85)(2.0,2.05)(1.6,1.52)(1.75,1.7)(1.4,1.38)(1.3,1.25)(1.55,1.35)(0.85,1.2)(1.05,1.05)(1.15,0.85)(1.58,1.22)(1.75,1.4)(2.35,2.0)(2.45,2.1)(2.55,2.0)(2.6,1.75)(2.5,1.6)(2.42,1.52)(2.7,1.9)(2.55,2.38)(2.65,3.1)(1.75,2.95)(1.8,2.85)(0.48,1.85)(1.85,2.55)}
{(0.42,1.15)(0.5,1.22)(0.58,1.3)(0.62,1.45)(0.7,1.58)(0.78,1.72)(0.85,1.82)(0.95,1.95)(1.05,2.05)(1.12,2.15)(1.2,2.25)(1.3,2.35)(1.4,2.48)(1.5,2.58)(1.62,2.7)(1.72,2.72)(1.82,2.58)(1.75,2.42)(1.68,2.32)(1.62,2.22)(1.55,2.18)(1.48,2.08)(1.42,1.98)(1.35,1.88)(1.25,1.78)(1.15,1.65)(1.05,1.6)(0.95,1.48)(0.85,1.38)(0.72,1.28)(0.6,1.2)(1.28,1.58)(1.38,1.72)(1.5,1.88)(1.62,2.0)(1.75,2.15)(1.85,2.3)(1.52,1.68)(1.68,1.88)(1.82,2.02)(1.95,2.18)(1.2,1.45)(1.45,1.45)}

% headers over the columns
\node[font=\fontsize{7.7}{8}\selectfont] at (31,18) {A};
\lab{261}{33}{Parental}
\lab{543}{31}{soCon}
\lab{824}{31}{siTRPM8}
\lab{1104}{31}{siCON}
\lab{1387}{33}{siTRPM8}
\lab{146}{82}{EPI (500ng/mL)}
\lab{261}{85}{-}
\lab{544}{86}{-}
\lab{826}{86}{-}
\lab{1105}{85}{+}
\lab{1386}{85}{+}
\lab{247}{130}{Data 002}
\lab{535}{130}{Data 005}
\lab{817}{130}{Data 006}
\lab{1107}{130}{Data 003}
\lab{1391}{130}{Data 004}
\smalllab{247}{460}{Data 006}
\smalllab{533}{458}{Data 002}
\smalllab{818}{461}{Data 005}
\smalllab{1103}{462}{Data 003}
\smalllab{1393}{459}{Data 004}
\lab{43}{263}{LNCaP}
\lab{52}{583}{PC3}

\draw[black, line width=1.3pt] (1534,156) -- (1534,718);
\draw[black, line width=1.6pt] (133,767) -- (1534,767);
\lab{840}{789}{FITC}
\node[font=\fontsize{4.2}{5}\selectfont, rotate=-90] at (1553,454) {PI};

% panel B
\lab{29}{849}{B}
\begin{axis}[
  at={(408*0.32385pt,-1405*0.32385pt)}, anchor=south west,
  scale only axis, width=254.2pt, height=169.4pt,
  ybar, bar width=12.6pt,
  xmin=0.516, xmax=5.516, ymin=0, ymax=100,
  axis lines=left, axis line style={-, line width=1.6pt},
  xtick={1,2,3,4,5}, ytick={0,20,40,60,80,100},
  xticklabels={Parental,siCon,siTRPM8,siCon,siTRPM8},
  tick align=outside, major tick length=5.2pt,
  tick style={black, line width=1.6pt},
  ticklabel style={font=\fontsize{7.5}{8}\selectfont},
  xticklabel style={yshift=-13.9pt},
  yticklabel style={xshift=1pt, yshift=-0.6pt},
  ylabel={Apoptotic cells (\%)},
  every axis y label/.style={at={(axis description cs:0,0.5)}, anchor=center, rotate=90, yshift=24pt, font=\fontsize{7.6}{8}\selectfont, text=black!80},
  /pgf/number format/assume math mode=true,
  error bars/y dir=plus, error bars/y explicit,
  error bars/error bar style={black, line width=1.6pt},
  error bars/error mark options={black, line width=2.2pt, mark size=4.5pt, rotate=90},
  legend style={at={(0.085,0.94)}, anchor=north west, draw=none, fill=none, row sep=8.5pt, inner sep=0pt, font=\fontsize{7.6}{8}\selectfont, cells={anchor=west}},
  legend image code/.code={\draw[#1, line width=2pt] (0pt,-4.4pt) rectangle (17pt,4.4pt);},
  clip=false,
]
\addplot[bar shift=-9.55pt, draw=barline, fill=white, line width=2pt] coordinates {
  (1,3.5) +- (0,0.8)
  (2,4.0) +- (0,1.0)
  (3,4.4) +- (0,0.9)
  (4,50.9) +- (0,3.2)
  (5,72.3) +- (0,4.0)
};
\addplot[bar shift=9.55pt, draw=barline, fill=barfill, line width=2pt] coordinates {
  (1,5.0) +- (0,1.1)
  (2,5.3) +- (0,1.9)
  (3,5.8) +- (0,1.5)
  (4,21.4) +- (0,2.8)
  (5,45.6) +- (0,3.5)
};
\legend{LNCaP,PC-3}
\end{axis}

\node[text=black!70, font=\fontsize{8}{8}\selectfont] at (924,1096) {***};
\node[text=black!70, font=\fontsize{8}{8}\selectfont] at (987,1256) {**};
\node[text=black!70, font=\fontsize{8}{8}\selectfont] at (1084,978) {***};
\node[text=black!70, font=\fontsize{8}{8}\selectfont] at (1143,1121) {***};

\node[font=\fontsize{7.6}{8}\selectfont] at (335,1445) {EPI (500ng/mL)};
\node[font=\fontsize{7.6}{8}\selectfont] at (482,1447) {-};
\node[font=\fontsize{7.6}{8}\selectfont] at (639,1447) {-};
\node[font=\fontsize{7.6}{8}\selectfont] at (796,1447) {-};
\node[font=\fontsize{7.6}{8}\selectfont] at (954,1446) {+};
\node[font=\fontsize{7.6}{8}\selectfont] at (1111,1446) {+};
\end{tikzpicture}
\end{document}
